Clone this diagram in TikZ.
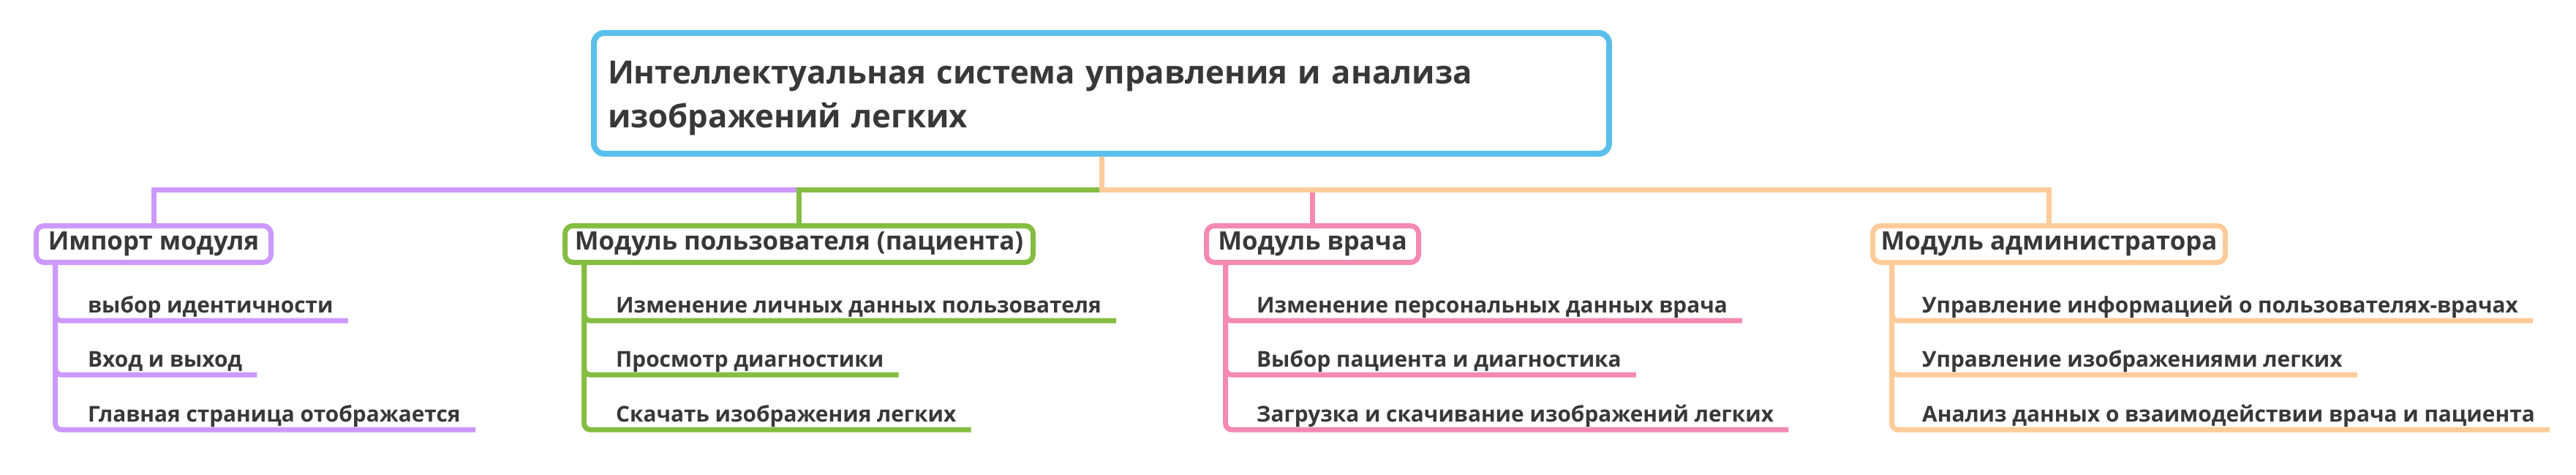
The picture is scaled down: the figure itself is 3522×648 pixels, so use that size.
\documentclass[tikz,border=0pt]{standalone}
\usepackage{fontspec}
\setmainfont{Open Sans}
\usetikzlibrary{calc}
\definecolor{rootc}{HTML}{5BBFEC}
\definecolor{cpur}{HTML}{CC99FF}
\definecolor{cgrn}{HTML}{84BD41}
\definecolor{cpnk}{HTML}{F489B2}
\definecolor{corg}{HTML}{FFCB99}
\definecolor{txt}{HTML}{383838}
\begin{document}
\begin{tikzpicture}[x=1pt,y=-1pt,
 rootbox/.style={draw=rootc, line width=8pt, rounded corners=14pt, fill=white,
   minimum width=1388pt, minimum height=165pt, inner xsep=19pt, inner ysep=0pt,
   text width=1350pt, align=left, font=\fontsize{43.7}{60}\selectfont\bfseries, text=txt},
 modbox/.style={draw=#1, line width=7pt, rounded corners=11pt, fill=white,
   minimum height=50pt, inner sep=0pt, font=\fontsize{34.8}{40}\selectfont\bfseries, text=txt},
 leaf/.style={anchor=base west, inner sep=0pt, text depth=11pt,
   font=\fontsize{29.8}{32}\selectfont\bfseries, text=txt},
 conn/.style={draw=#1, line width=7pt, rounded corners=9pt},
 barline/.style={draw=#1, line width=7pt},
]
\useasboundingbox (0,0) rectangle (3522,648);
\fill[white] (0,0) rectangle (3522,648);

% root
\node[rootbox] (root) at (1506,127.5) {\rule{0pt}{45pt}Интеллектуальная система управления и анализа\\изображений легких};

% modules
\node[modbox=cpur, minimum width=321pt] (m1) at (210,333.5) {Импорт модуля};
\node[modbox=cgrn, minimum width=640pt] (m2) at (1092.5,333.5) {Модуль пользователя (пациента)};
\node[modbox=cpnk, minimum width=290pt] (m3) at (1794.5,333.5) {Модуль врача};
\node[modbox=corg, minimum width=482pt] (m4) at (2801.5,333.5) {Модуль администратора};

% bar connectors
\coordinate (bar) at (0,259);
\draw[barline=cpur] (root.south) -- (root.south |- bar) -| (m1.north);
\draw[barline=cgrn] (root.south) -- (root.south |- bar) -| (m2.north);
\draw[barline=cpnk] (root.south) -- (root.south |- bar) -| (m3.north);
\draw[barline=corg] (root.south) -- (root.south |- bar) -| (m4.north);

% leaves
\node[leaf] (a1) at (120,427) {выбор идентичности};
\node[leaf] (a2) at (120,501) {Вход и выход};
\node[leaf] (a3) at (120,576) {Главная страница отображается};
\node[leaf] (b1) at (842,427) {Изменение личных данных пользователя};
\node[leaf] (b2) at (842,501) {Просмотр диагностики};
\node[leaf] (b3) at (842,576) {Скачать изображения легких};
\node[leaf] (c1) at (1718,427) {Изменение персональных данных врача};
\node[leaf] (c2) at (1718,501) {Выбор пациента и диагностика};
\node[leaf] (c3) at (1718,576) {Загрузка и скачивание изображений легких};
\node[leaf] (d1) at (2628,427) {Управление информацией о пользователях-врачах};
\node[leaf] (d2) at (2628,501) {Управление изображениями легких};
\node[leaf] (d3) at (2628,576) {Анализ данных о взаимодействии врача и пациента};

\foreach \m/\c/\col in {m1/a/cpur, m2/b/cgrn, m3/c/cpnk, m4/d/corg}{
  \foreach \i in {1,2,3}{
    \draw[conn=\col] ([xshift=29.5pt]\m.south west) |- ([xshift=20pt]\c\i.south east);
  }
}
\end{tikzpicture}
\end{document}
